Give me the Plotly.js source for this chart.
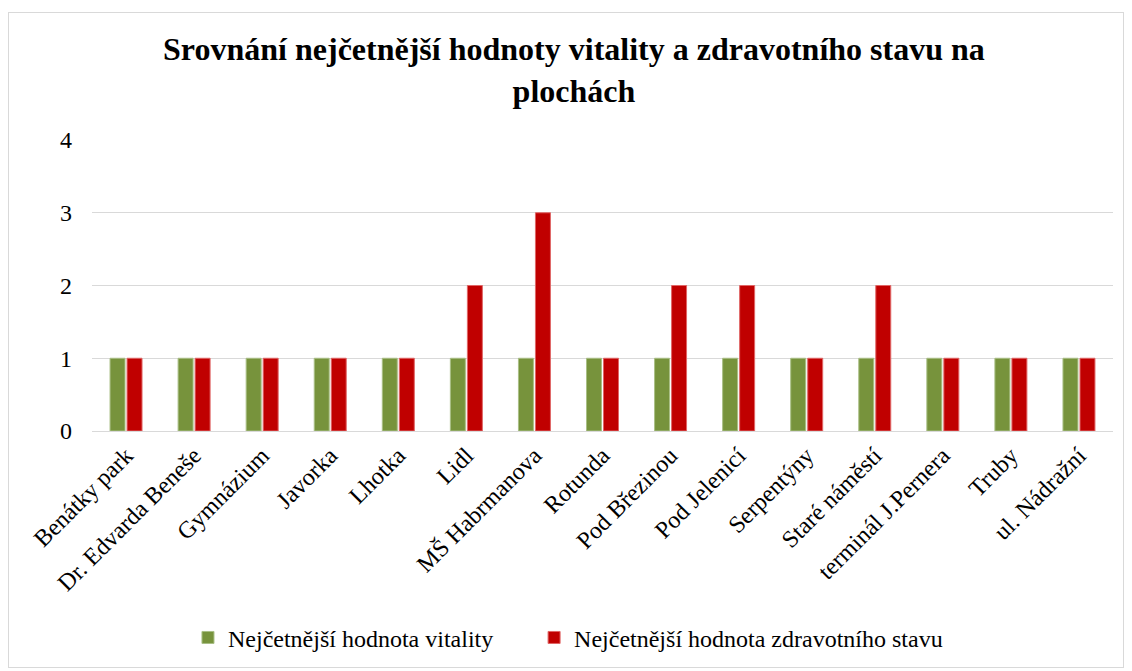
<!DOCTYPE html>
<html>
<head>
<meta charset="utf-8">
<script src="https://cdn.plot.ly/plotly-3.0.1.min.js"></script>
<style>
html,body{margin:0;padding:0;background:#fff;}
#wrap{position:relative;width:1132px;height:671px;}
#chart{width:1132px;height:671px;}
#frame{position:absolute;left:8px;top:12px;width:1116px;height:656px;border:1px solid #d9d9d9;pointer-events:none;box-sizing:border-box;}
</style>
</head>
<body>
<div id="wrap"><div id="chart"></div><div id="frame"></div></div>
<script>
const categories = ["Benátky park","Dr. Edvarda Beneše","Gymnázium","Javorka","Lhotka","Lidl","MŠ Habrmanova","Rotunda","Pod Březinou","Pod Jelenicí","Serpentýny","Staré náměstí","terminál J.Pernera","Truby","ul. Nádražní"];
const vitality = [1,1,1,1,1,1,1,1,1,1,1,1,1,1,1];
const zdravotni = [1,1,1,1,1,2,3,1,2,2,1,2,1,1,1];
const seriesNames = ["Nejčetnější hodnota vitality","Nejčetnější hodnota zdravotního stavu"];

const font = "Liberation Serif";
const data = [
  {type:"bar", x:categories, y:vitality, name:seriesNames[0], legend:"legend",
   marker:{color:"#77933c", line:{color:"#a9bf85", width:1}}},
  {type:"bar", x:categories, y:zdravotni, name:seriesNames[1], legend:"legend2",
   marker:{color:"#c00000", line:{color:"#e06666", width:1}}}
];
const legendBase = {orientation:"h", xanchor:"left", y:-0.705, yanchor:"middle",
  font:{family:font, size:24, color:"#000"}, itemwidth:30, bgcolor:"rgba(0,0,0,0)"};
const layout = {
  width:1132, height:671,
  margin:{l:92, r:19, t:140, b:239},
  paper_bgcolor:"#fff", plot_bgcolor:"#fff",
  font:{family:font, color:"#000"},
  title:{text:"<b>Srovnání nejčetnější hodnoty vitality a zdravotního stavu na<br>plochách</b>",
    font:{family:font, size:32, color:"#000"}, x:0.507, xanchor:"center", y:0.91, yanchor:"top"},
  barmode:"group", bargap:0.5, bargroupgap:0.12,
  xaxis:{type:"category", tickangle:-45, tickfont:{family:font, size:24, color:"#000"},
    showgrid:false, showline:true, linecolor:"#d9d9d9", linewidth:1, ticks:"", automargin:false},
  yaxis:{range:[0,4], dtick:1, tickfont:{family:font, size:24, color:"#000"},
    showgrid:true, gridcolor:"#d9d9d9", gridwidth:1, zeroline:true, zerolinecolor:"#d9d9d9",
    showline:false, ticks:"", ticklabelstandoff:19, automargin:false},
  showlegend:true,
  legend:Object.assign({}, legendBase, {x:0.094}),
  legend2:Object.assign({}, legendBase, {x:0.433})
};
Plotly.newPlot("chart", data, layout, {displayModeBar:false, staticPlot:true});
</script>
</body>
</html>
